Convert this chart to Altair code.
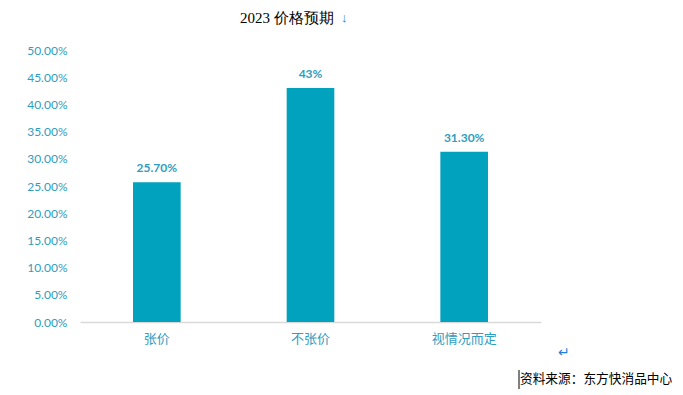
import altair as alt
import pandas as pd

categories = ["张价", "不张价", "视情况而定"]
values = [0.257, 0.43, 0.313]
value_labels = ["25.70%", "43%", "31.30%"]
y_ticks = [0.0, 0.05, 0.10, 0.15, 0.20, 0.25, 0.30, 0.35, 0.40, 0.45, 0.50]

df = pd.DataFrame({"cat": categories, "val": values, "lab": value_labels})

BAR = "#00A2BE"
TEAL = "#2E9DBE"

W, H = 461, 272

base = alt.Chart(df).encode(
    x=alt.X("cat:N", sort=categories, title=None,
            scale=alt.Scale(paddingInner=0.69, paddingOuter=0.345),
            axis=alt.Axis(labelAngle=0, labelColor=TEAL, labelFontSize=13,
                          labelFont="Noto Sans CJK SC", labelPadding=10,
                          domainColor="#D9D9D9", domainWidth=1.5, ticks=False)),
    y=alt.Y("val:Q", title=None,
            scale=alt.Scale(domain=[0, 0.5], nice=False),
            axis=alt.Axis(format=".2%", values=y_ticks,
                          labelColor=TEAL, labelFontSize=12, labelFont="Lato",
                          labelOverlap=False,
                          labelPadding=13, domain=False, ticks=False, grid=False)),
)

bars = base.mark_bar(color=BAR)

text = base.mark_text(dy=-14, color=TEAL, fontSize=12, font="Lato",
                      fontWeight="bold").encode(text="lab:N")

title = alt.Chart(pd.DataFrame({"t": ["2023 价格预期"]})).mark_text(
    color="#000000", fontSize=15, align="left", baseline="alphabetic",
    font="Liberation Serif"
).encode(x=alt.value(160), y=alt.value(-27), text="t:N")

arrow1 = alt.Chart(pd.DataFrame({"t": ["↓"]})).mark_text(
    color="#1E7FE0", fontSize=13, align="left", baseline="alphabetic"
).encode(x=alt.value(261), y=alt.value(-28), text="t:N")

arrow2 = alt.Chart(pd.DataFrame({"t": ["↵"]})).mark_text(
    color="#1E7FE0", fontSize=14, align="left"
).encode(x=alt.value(478), y=alt.value(303), text="t:N")

source = alt.Chart(pd.DataFrame({"t": ["资料来源：东方快消品中心"]})).mark_text(
    color="#000000", fontSize=12.7, align="left", font="Noto Sans CJK SC"
).encode(x=alt.value(440), y=alt.value(329), text="t:N")

cursor = alt.Chart(pd.DataFrame({"a": [0]})).mark_rule(color="#000000").encode(
    x=alt.value(439), y=alt.value(320), y2=alt.value(339)
)

chart = alt.layer(bars, text, title, arrow1, arrow2, source, cursor).properties(
    width=W, height=H,
    autosize=alt.AutoSizeParams(type="none"),
    padding={"left": 72, "top": 42, "right": 134, "bottom": 68},
).configure_view(stroke=None).configure_axisY(labelOverlap=False)

chart.save("out.html", embed_options={"renderer": "svg", "actions": False})
